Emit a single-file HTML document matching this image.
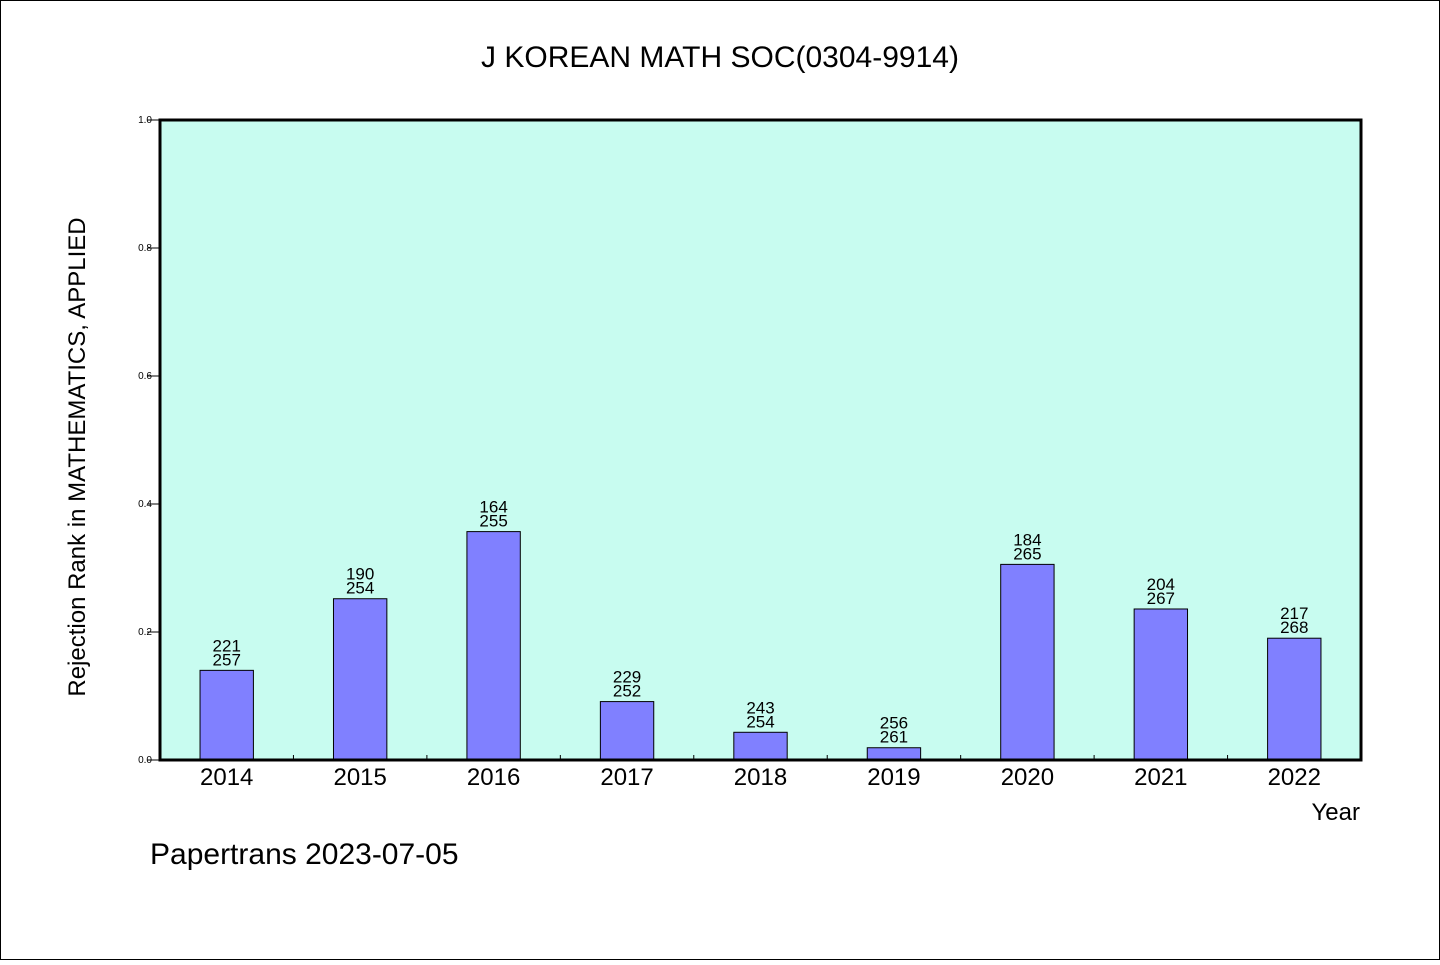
<!DOCTYPE html>
<html><head><meta charset="utf-8"><style>
body{margin:0;background:#fff}
svg text{font-family:"WenQuanYi Zen Hei","Liberation Sans",sans-serif;fill:#000}
</style></head><body>
<svg id="chart" width="1440" height="960" viewBox="0 0 1440 960" xmlns="http://www.w3.org/2000/svg">
<rect x="0.5" y="0.5" width="1439" height="959" fill="#fff" stroke="#000" stroke-width="1"/>
<text x="720" y="67" font-size="30" text-anchor="middle">J KOREAN MATH SOC(0304-9914)</text>
<rect x="160" y="120" width="1201" height="640" fill="#c8fcf0"/>
<g id="bars"></g>
<g id="axes"></g>
<rect x="160" y="120" width="1201" height="640" fill="none" stroke="#000" stroke-width="3"/>
<text transform="translate(85,457) rotate(-90)" font-size="24" text-anchor="middle">Rejection Rank in MATHEMATICS, APPLIED</text>
<text x="1360" y="820" font-size="24" text-anchor="end">Year</text>
<text x="150" y="864" font-size="30">Papertrans 2023-07-05</text>
</svg>
<script>
const years=["2014","2015","2016","2017","2018","2019","2020","2021","2022"];
const ranks=[221,190,164,229,243,256,184,204,217];
const totals=[257,254,255,252,254,261,265,267,268];
const yTicks=[0,0.2,0.4,0.6,0.8,1.0];
const NS="http://www.w3.org/2000/svg";
const x0=160,x1=1361,y0=760,y1=120;
const band=(x1-x0)/years.length;
const xc=i=>x0+band*(i+0.5);
const yv=v=>y0-(v)*(y0-y1);
function mk(tag,attrs,parent){const e=document.createElementNS(NS,tag);for(const k in attrs)e.setAttribute(k,attrs[k]);parent.appendChild(e);return e;}
const bars=document.getElementById('bars'),axes=document.getElementById('axes');
years.forEach((yr,i)=>{
  const v=(totals[i]-ranks[i])/totals[i];
  const bw=band*0.4;
  const r=mk('rect',{x:xc(i)-bw/2,y:yv(v),width:bw,height:y0-yv(v),fill:'#8080ff',stroke:'#000','stroke-width':1},bars);
  
  
  const t1=mk('text',{x:xc(i),y:yv(v)-19,'font-size':17,'text-anchor':'middle'},bars);t1.textContent=ranks[i];
  
  
  const t2=mk('text',{x:xc(i),y:yv(v)-5,'font-size':17,'text-anchor':'middle'},bars);t2.textContent=totals[i];
  
  
  const xl=mk('text',{x:xc(i),y:785,'font-size':24,'text-anchor':'middle'},axes);xl.textContent=yr;
  
  
  if(i>0){const tk=mk('line',{x1:x0+band*i,x2:x0+band*i,y1:755,y2:760,stroke:'#000'},axes);
  
  }
});
yTicks.forEach(t=>{
  const l=mk('line',{x1:147,x2:160,y1:yv(t),y2:yv(t),stroke:'#000'},axes);
  
  
  const tx=mk('text',{x:152,y:yv(t)+3,'font-size':10,'text-anchor':'end'},axes);tx.textContent=t.toFixed(1);
  
  
});
</script>
</body></html>
